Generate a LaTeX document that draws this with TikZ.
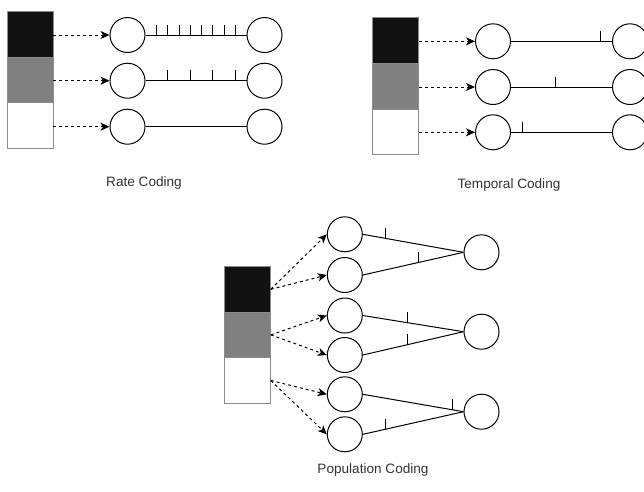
\documentclass[tikz,border=0pt]{standalone}
\usepackage{fontspec}
\setmainfont{Liberation Sans}
\usetikzlibrary{arrows.meta,calc}
\definecolor{barblack}{HTML}{111111}
\definecolor{bargray}{HTML}{808080}
\definecolor{barline}{HTML}{8C8C8C}
\tikzset{
  neuron/.style={circle, draw=black, line width=1pt, minimum size=35pt, inner sep=0pt},
  barcell/.style={rectangle, draw=barline, line width=0.9pt, minimum width=46pt, minimum height=45.6pt, inner sep=0pt},
  inarrow/.style={line width=1pt, dash pattern=on 3pt off 3pt, -{Stealth[length=9pt,width=8pt,inset=2.5pt]}},
  axon/.style={line width=1pt},
  spike/.style={line width=1pt},
  caption/.style={font=\fontsize{13.6}{16}\selectfont, text=black!80}
}
\begin{document}
\begin{tikzpicture}[x=1pt,y=-1pt]
\useasboundingbox (0,0) rectangle (644,491);
% ---------- Rate coding ----------
\node[barcell, fill=barblack] (rb1) at (30,34.5) {};
\node[barcell, fill=bargray] (rb2) at (30,80.1) {};
\node[barcell, fill=white] (rb3) at (30,125.7) {};
\node[neuron] (ra1) at (127.5,35) {};
\node[neuron] (ra2) at (127.5,80.7) {};
\node[neuron] (ra3) at (127.5,126.7) {};
\node[neuron] (rc1) at (264.5,35) {};
\node[neuron] (rc2) at (264.5,80.7) {};
\node[neuron] (rc3) at (264.5,126.7) {};
\draw[inarrow] (rb1.east |- ra1) -- (ra1.west);
\draw[inarrow] (rb2.east |- ra2) -- (ra2.west);
\draw[inarrow] (rb3.east |- ra3) -- (ra3.west);
\draw[axon] (ra1.east) -- (rc1.west);
\draw[axon] (ra2.east) -- (rc2.west);
\draw[axon] (ra3.east) -- (rc3.west);
\foreach \k in {1,...,8} {\draw[spike] ($(ra1.east)!\k/9!(rc1.west)$) -- ++(0,-10.5);}
\foreach \k in {2,4,6,8} {\draw[spike] ($(ra2.east)!\k/9!(rc2.west)$) -- ++(0,-10.5);}
\node[caption] (rlab) at (144,183) {Rate Coding};
% ---------- Temporal coding ----------
\node[barcell, fill=barblack] (tb1) at (395.9,40.7) {};
\node[barcell, fill=bargray] (tb2) at (395.9,86.3) {};
\node[barcell, fill=white] (tb3) at (395.9,131.9) {};
\node[neuron] (ta1) at (493,41.3) {};
\node[neuron] (ta2) at (493,87) {};
\node[neuron] (ta3) at (493,132.3) {};
\node[neuron] (tc1) at (630,41.3) {};
\node[neuron] (tc2) at (630,87) {};
\node[neuron] (tc3) at (630,132.3) {};
\draw[inarrow] (tb1.east |- ta1) -- (ta1.west);
\draw[inarrow] (tb2.east |- ta2) -- (ta2.west);
\draw[inarrow] (tb3.east |- ta3) -- (ta3.west);
\draw[axon] (ta1.east) -- (tc1.west);
\draw[axon] (ta2.east) -- (tc2.west);
\draw[axon] (ta3.east) -- (tc3.west);
\draw[spike] ($(ta1.east)!8/9!(tc1.west)$) -- ++(0,-10.5);
\draw[spike] ($(ta2.east)!4/9!(tc2.west)$) -- ++(0,-10.5);
\draw[spike] ($(ta3.east)!1/9!(tc3.west)$) -- ++(0,-10.5);
\node[caption] (tlab) at (509,185) {Temporal Coding};
% ---------- Population coding ----------
\node[barcell, fill=barblack] (pb1) at (247.3,289.3) {};
\node[barcell, fill=bargray] (pb2) at (247.3,334.9) {};
\node[barcell, fill=white] (pb3) at (247.3,380.5) {};
\node[neuron] (pa1) at (344.8,234.3) {};
\node[neuron] (pa2) at (344.8,275) {};
\node[neuron] (pa3) at (344.8,315.5) {};
\node[neuron] (pa4) at (344.8,355) {};
\node[neuron] (pa5) at (344.8,394.3) {};
\node[neuron] (pa6) at (344.8,434.3) {};
\node[neuron] (pc1) at (481.5,252.3) {};
\node[neuron] (pc2) at (481.5,331.7) {};
\node[neuron] (pc3) at (481.5,411.7) {};
\draw[inarrow] (pb1.east) -- (pa1.west);
\draw[inarrow] (pb1.east) -- (pa2.west);
\draw[inarrow] (pb2.east) -- (pa3.west);
\draw[inarrow] (pb2.east) -- (pa4.west);
\draw[inarrow] (pb3.east) -- (pa5.west);
\draw[inarrow] (pb3.east) -- (pa6.west);
\draw[axon] (pa1.east) -- (pc1.west);
\draw[axon] (pa2.east) -- (pc1.west);
\draw[axon] (pa3.east) -- (pc2.west);
\draw[axon] (pa4.east) -- (pc2.west);
\draw[axon] (pa5.east) -- (pc3.west);
\draw[axon] (pa6.east) -- (pc3.west);
\draw[spike] ($(pa1.east)!2/9!(pc1.west)$) -- ++(0,-10.5);
\draw[spike] ($(pa2.east)!5/9!(pc1.west)$) -- ++(0,-10.5);
\draw[spike] ($(pa3.east)!4/9!(pc2.west)$) -- ++(0,-10.5);
\draw[spike] ($(pa4.east)!4/9!(pc2.west)$) -- ++(0,-10.5);
\draw[spike] ($(pa5.east)!8/9!(pc3.west)$) -- ++(0,-10.5);
\draw[spike] ($(pa6.east)!2/9!(pc3.west)$) -- ++(0,-10.5);
\node[caption] (plab) at (373,470) {Population Coding};
\end{tikzpicture}
\end{document}
